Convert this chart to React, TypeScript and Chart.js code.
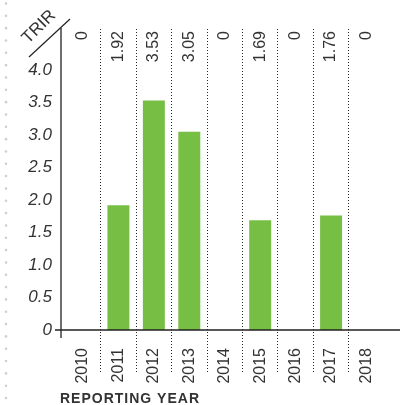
import React, { useEffect, useRef } from "react";
import { Chart, registerables } from "chart.js";

Chart.register(...registerables);

const years = ["2010", "2011", "2012", "2013", "2014", "2015", "2016", "2017", "2018"];
const trir = [0, 1.92, 3.53, 3.05, 0, 1.69, 0, 1.76, 0];
const valueLabels = ["0", "1.92", "3.53", "3.05", "0", "1.69", "0", "1.76", "0"];
const yTicks = [0, 0.5, 1, 1.5, 2, 2.5, 3, 3.5, 4];

const FONT = "Arial, 'Liberation Sans', Helvetica, sans-serif";
const TEXT = "#333333";
const GREEN = "#77be44";

const decorPlugin = {
  id: "decor",
  beforeDatasetsDraw(chart: any) {
    const ctx = chart.ctx;
    const xs = chart.scales.x;
    ctx.save();
    ctx.fillStyle = "#2a2a2a";
    for (let i = 0; i < years.length - 1; i++) {
      const x = Math.floor((xs.getPixelForValue(i) + xs.getPixelForValue(i + 1)) / 2);
      for (let y = 29; y < 374; y += 3) ctx.fillRect(x, y, 1, 1);
    }
    ctx.restore();
  },
  afterDraw(chart: any) {
    const ctx = chart.ctx;
    const xs = chart.scales.x;
    const ys = chart.scales.y;
    const area = chart.chartArea;
    ctx.save();
    ctx.fillStyle = "#c9d2d6";
    for (let y = 3.5; y < 402; y += 12.33) {
      ctx.beginPath();
      ctx.arc(6, y, 1.3, 0, Math.PI * 2);
      ctx.fill();
    }
    ctx.strokeStyle = "#222";
    ctx.lineWidth = 1.3;
    ctx.beginPath();
    ctx.moveTo(61, 28);
    ctx.lineTo(61, 338);
    ctx.moveTo(55, area.bottom);
    ctx.lineTo(400, area.bottom);
    ctx.stroke();
    ctx.lineWidth = 1.2;
    ctx.beginPath();
    ctx.moveTo(29, 57);
    ctx.lineTo(70, 19);
    ctx.stroke();
    // y tick labels (italic)
    ctx.fillStyle = TEXT;
    ctx.font = `italic 17px ${FONT}`;
    ctx.textAlign = "right";
    ctx.textBaseline = "middle";
    for (const v of yTicks) {
      ctx.fillText(v === 0 ? "0" : v.toFixed(1), 52, ys.getPixelForValue(v));
    }
    ctx.save();
    ctx.translate(39, 27);
    ctx.rotate(-Math.PI / 4);
    ctx.font = `17px ${FONT}`;
    ctx.textAlign = "center";
    ctx.textBaseline = "middle";
    ctx.fillText("TRIR", 0, 0);
    ctx.restore();
    ctx.font = `16px ${FONT}`;
    for (let i = 0; i < years.length; i++) {
      ctx.save();
      ctx.translate(xs.getPixelForValue(i), 31);
      ctx.rotate(-Math.PI / 2);
      ctx.textAlign = "right";
      ctx.textBaseline = "middle";
      ctx.fillText(valueLabels[i], 0, 0);
      ctx.restore();
    }
    ctx.font = `bold 14px ${FONT}`;
    (ctx as any).letterSpacing = "1px";
    ctx.textAlign = "left";
    ctx.textBaseline = "alphabetic";
    ctx.fillText("REPORTING YEAR", 60, 403);
    ctx.restore();
  },
};

export default function App() {
  const ref = useRef<HTMLCanvasElement>(null);
  useEffect(() => {
    if (!ref.current) return;
    const chart = new Chart(ref.current, {
      type: "bar",
      data: {
        labels: years,
        datasets: [
          {
            data: trir,
            backgroundColor: GREEN,
            barPercentage: 0.62,
            categoryPercentage: 1,
          },
        ],
      },
      options: {
        responsive: false,
        animation: false,
        layout: { padding: { top: 70, right: 16.75, left: 0, bottom: 0 } },
        plugins: { legend: { display: false }, tooltip: { enabled: false } },
        scales: {
          x: {
            offset: true,
            grid: { display: false },
            border: { display: false },
            ticks: {
              minRotation: 90,
              maxRotation: 90,
              autoSkip: false,
              padding: 10,
              color: TEXT,
              font: { family: FONT, size: 16 },
            },
            afterFit: (s: any) => {
              s.height = 75;
            },
          },
          y: {
            min: 0,
            max: 4,
            grid: { display: false },
            border: { display: false },
            afterBuildTicks: (s: any) => {
              s.ticks = yTicks.map((v) => ({ value: v }));
            },
            ticks: { display: false },
            afterFit: (s: any) => {
              s.width = 65.25;
            },
          },
        },
      },
      plugins: [decorPlugin],
    });
    return () => chart.destroy();
  }, []);
  return (
    <div style={{ position: "fixed", left: 0, top: 0, width: 401, height: 405, background: "#fff" }}>
      <canvas ref={ref} width={401} height={405} />
    </div>
  );
}
